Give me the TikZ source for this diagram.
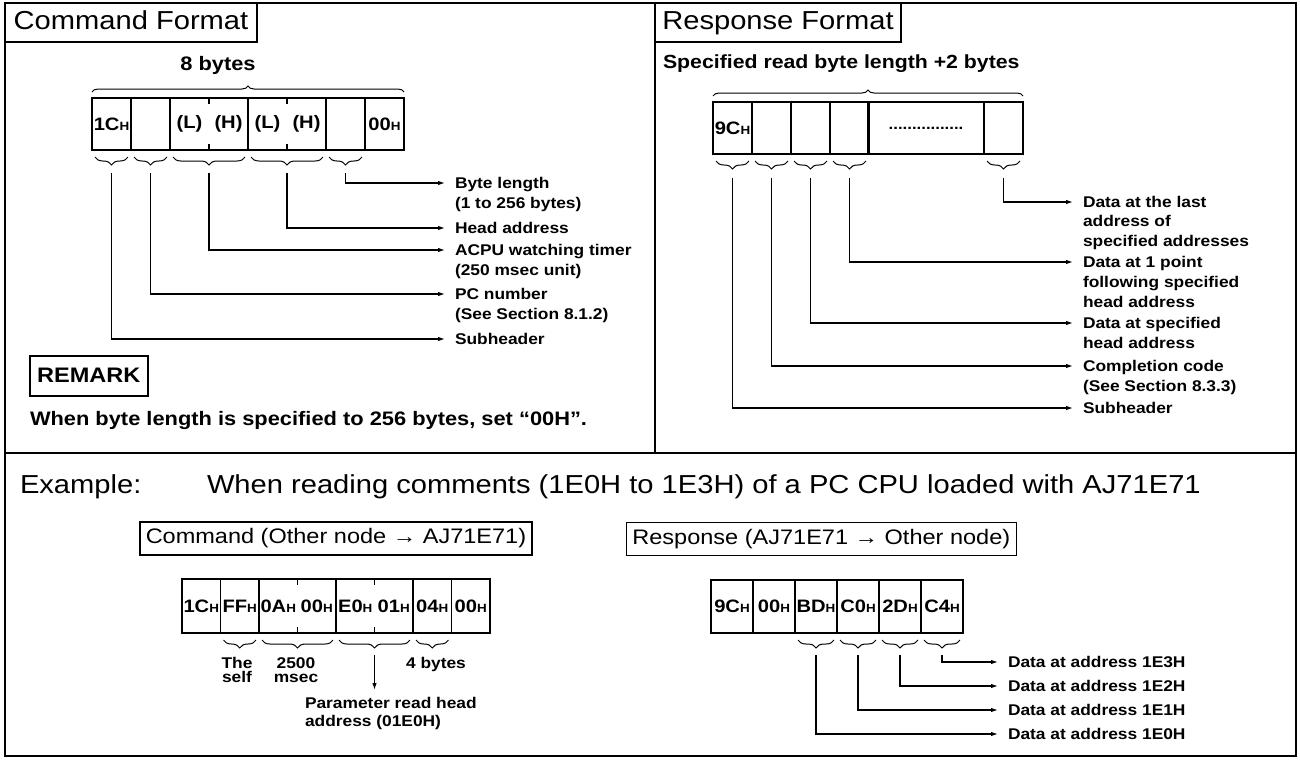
\documentclass[tikz,border=0pt]{standalone}
\usepackage{fontspec}
\setmainfont{Liberation Sans}[FakeStretch=1.12]
\usetikzlibrary{decorations.pathreplacing,arrows.meta}
\newcommand\hx[1]{#1{\fontsize{12}{12}\selectfont H}}
\newcommand\fsz[1]{\fontsize{#1}{#1}\selectfont}
\begin{document}
\begin{tikzpicture}[x=1pt,y=-1pt,
  frameline/.style={line width=1.8pt},
  boxline/.style={line width=1.5pt},
  titlebox/.style={draw,boxline,inner sep=0pt,outer sep=0pt,anchor=north west,text height=19pt,text depth=5pt,font=\fsz{26}},
  cell/.style={draw,boxline,minimum height=52pt,minimum width=39pt,inner sep=0pt,outer sep=0pt,font=\bfseries\fsz{18}},
  ncell/.style={cell,draw=none},
  brc/.style={decorate,decoration={brace,amplitude=8pt},line width=1pt},
  obrc/.style={decorate,decoration={brace,amplitude=6pt},line width=1pt},
  conn/.style={line width=1.2pt,-{Latex[length=7pt,width=4.5pt]}},
  lab/.style={anchor=west,inner xsep=10pt,inner ysep=0pt,outer sep=0pt,text height=11pt,text depth=0pt,font=\bfseries\fsz{15.5}},
  txt/.style={inner sep=0pt,outer sep=0pt},
]
\fill[white] (0,0) rectangle (1300,764);
\useasboundingbox (0,0) rectangle (1300,764);
\draw[frameline] (5,3) rectangle (1296,756);
\draw[frameline] (655,3) -- (655,453);
\draw[frameline] (5,453) -- (1296,453);

% ---------- Command format ----------
\node[titlebox,minimum width=252pt,minimum height=39pt] (cf) at (5,3) {Command Format};
\node[txt,font=\bfseries\fsz{19.5}] (eightb) at (218,65) {8 bytes};

\foreach \i/\t in {1/{\hx{1C}},2/{},3/{(L)},4/{(H)},5/{(L)},6/{(H)},7/{},8/{\hx{00}}}
  \node[ncell] (c\i) at ({92+39*(\i-0.5)},124) {\t};
\draw[boxline] (c1.north west) rectangle (c8.south east);
\foreach \i in {1,2,4,6,7} \draw[boxline] (c\i.north east) -- (c\i.south east);
\foreach \i in {3,5} {\draw[boxline] (c\i.north east) -- ++(0,6); \draw[boxline] (c\i.south east) -- ++(0,-6);}
\draw[obrc] ([yshift=6pt]c1.north west) -- ([yshift=6pt]c8.north east);

\draw[brc] ([xshift=-3pt,yshift=-7pt]c1.south east) -- ([xshift=3pt,yshift=-7pt]c1.south west);
\draw[brc] ([xshift=-3pt,yshift=-7pt]c2.south east) -- ([xshift=3pt,yshift=-7pt]c2.south west);
\draw[brc] ([xshift=-3pt,yshift=-7pt]c4.south east) -- ([xshift=3pt,yshift=-7pt]c3.south west);
\draw[brc] ([xshift=-3pt,yshift=-7pt]c6.south east) -- ([xshift=3pt,yshift=-7pt]c5.south west);
\draw[brc] ([xshift=-3pt,yshift=-7pt]c7.south east) -- ([xshift=3pt,yshift=-7pt]c7.south west);
\coordinate (u1) at ([yshift=-23pt]c1.south);
\coordinate (u2) at ([yshift=-23pt]c2.south);
\coordinate (u34) at ([yshift=-23pt]c3.south east);
\coordinate (u56) at ([yshift=-23pt]c5.south east);
\coordinate (u7) at ([yshift=-23pt]c7.south);

\node[lab] (l7) at (445,183) {Byte length};
\node[lab] (l7b) at (445,203) {(1 to 256 bytes)};
\node[lab] (l56) at (445,228) {Head address};
\node[lab] (l34) at (445,250) {ACPU watching timer};
\node[lab] (l34b) at (445,270) {(250 msec unit)};
\node[lab] (l2) at (445,294) {PC number};
\node[lab] (l2b) at (445,314) {(See Section 8.1.2)};
\node[lab] (l1) at (445,339) {Subheader};
\draw[conn] (u7) |- (l7.west);
\draw[conn] (u56) |- (l56.west);
\draw[conn] (u34) |- (l34.west);
\draw[conn] (u2) |- (l2.west);
\draw[conn] (u1) |- (l1.west);

\node[draw,boxline,anchor=north west,minimum width=118pt,minimum height=40pt,inner sep=0pt,font=\bfseries\fsz{21}] (rem) at (29,355) {REMARK};
\node[txt,anchor=west,font=\bfseries\fsz{19.5}] (remtxt) at (30,420) {When byte length is specified to 256 bytes, set “00H”.};

% ---------- Response format ----------
\node[titlebox,minimum width=246pt,minimum height=39pt] (rf) at (655,3) {Response Format};
\node[txt,anchor=west,font=\bfseries\fsz{19}] (spec) at (663,64) {Specified read byte length +2 bytes};

\foreach \i/\t in {1/{\hx{9C}},2/{},3/{},4/{}}
  \node[cell] (r\i) at ({713+39*(\i-0.5)},128) {\t};
\node[cell,minimum width=116pt,font=\bfseries\fsz{15}] (r5) at (926,128) {................};
\node[cell] (r6) at (1003.5,128) {};
\draw[obrc] ([yshift=6pt]r1.north west) -- ([yshift=6pt]r6.north east);
\foreach \i in {1,2,3,4,6} {
  \draw[brc] ([xshift=-3pt,yshift=-7pt]r\i.south east) -- ([xshift=3pt,yshift=-7pt]r\i.south west);
  \coordinate (v\i) at ([yshift=-24pt]r\i.south);
}
\node[lab] (m6) at (1073,202) {Data at the last};
\node[lab] (m6b) at (1073,221) {address of};
\node[lab] (m6c) at (1073,241) {specified addresses};
\node[lab] (m4) at (1073,262) {Data at 1 point};
\node[lab] (m4b) at (1073,282) {following specified};
\node[lab] (m4c) at (1073,302) {head address};
\node[lab] (m3) at (1073,323) {Data at specified};
\node[lab] (m3b) at (1073,343) {head address};
\node[lab] (m2) at (1073,366) {Completion code};
\node[lab] (m2b) at (1073,386) {(See Section 8.3.3)};
\node[lab] (m1) at (1073,408) {Subheader};
\draw[conn] (v6) |- (m6.west);
\draw[conn] (v4) |- (m4.west);
\draw[conn] (v3) |- (m3.west);
\draw[conn] (v2) |- (m2.west);
\draw[conn] (v1) |- (m1.west);

% ---------- Example ----------
\node[txt,anchor=west,font=\fsz{26}] (ex) at (20,487) {Example:};
\node[txt,anchor=west,font=\fsz{26}] (exh) at (207,487) {When reading comments (1E0H to 1E3H) of a PC CPU loaded with AJ71E71};

\node[draw,boxline,anchor=west,minimum height=33pt,inner xsep=6pt,inner ysep=0pt,text height=14pt,text depth=4pt,font=\fsz{21}] (cmdbox) at (139,538.5) {Command (Other node → AJ71E71)};
\node[draw,boxline,anchor=east,minimum height=33pt,inner xsep=6pt,inner ysep=0pt,text height=14pt,text depth=4pt,font=\fsz{21}] (rspbox) at (1017,539) {Response (AJ71E71 → Other node)};

\foreach \i/\t in {1/{\hx{1C}},2/{\hx{FF}},3/{\hx{0A}},4/{\hx{00}},5/{\hx{E0}},6/{\hx{01}},7/{\hx{04}},8/{\hx{00}}}
  \node[ncell,minimum width=38.5pt,minimum height=54pt] (e\i) at ({182+38.5*(\i-0.5)},606) {\t};
\draw[boxline] (e1.north west) rectangle (e8.south east);
\foreach \i in {1,2,4,6,7} \draw[boxline] (e\i.north east) -- (e\i.south east);
\foreach \i in {3,5} {\draw[boxline] (e\i.north east) -- ++(0,6); \draw[boxline] (e\i.south east) -- ++(0,-6);}
\draw[brc] ([xshift=-3pt,yshift=-7pt]e2.south east) -- ([xshift=3pt,yshift=-7pt]e2.south west);
\draw[brc] ([xshift=-3pt,yshift=-7pt]e4.south east) -- ([xshift=3pt,yshift=-7pt]e3.south west);
\draw[brc] ([xshift=-3pt,yshift=-7pt]e6.south east) -- ([xshift=3pt,yshift=-7pt]e5.south west);
\draw[brc] ([xshift=-3pt,yshift=-7pt]e7.south east) -- ([xshift=3pt,yshift=-7pt]e7.south west);

\node[txt,align=center,font=\bfseries\fontsize{15.5}{14}\selectfont] (theself) at (237,670) {The\\self};
\node[txt,align=center,font=\bfseries\fontsize{15.5}{14}\selectfont] (msec) at (296,670) {2500\\msec};
\node[txt,font=\bfseries\fsz{15.5}] (fourb) at (436,664) {4 bytes};
\coordinate (w56) at ([yshift=-22pt]e5.south east);
\node[txt,anchor=north west,align=left,font=\bfseries\fontsize{15.5}{18}\selectfont] (par) at (305,697) {Parameter read head\\address (01E0H)};
\draw[conn,shorten >=7pt] (w56) -- (w56 |- par.north);

\foreach \i/\t in {1/{\hx{9C}},2/{\hx{00}},3/{\hx{BD}},4/{\hx{C0}},5/{\hx{2D}},6/{\hx{C4}}}
  \node[cell,minimum width=42pt,minimum height=53pt] (f\i) at ({711+42*(\i-0.5)},606.5) {\t};
\foreach \i in {3,4,5,6} {
  \draw[brc] ([xshift=-3pt,yshift=-7pt]f\i.south east) -- ([xshift=3pt,yshift=-7pt]f\i.south west);
  \coordinate (z\i) at ([yshift=-22pt]f\i.south);
}
\node[lab] (d3) at (998,662) {Data at address 1E3H};
\node[lab] (d2) at (998,686) {Data at address 1E2H};
\node[lab] (d1) at (998,710) {Data at address 1E1H};
\node[lab] (d0) at (998,734) {Data at address 1E0H};
\draw[conn] (z6) |- (d3.west);
\draw[conn] (z5) |- (d2.west);
\draw[conn] (z4) |- (d1.west);
\draw[conn] (z3) |- (d0.west);
\end{tikzpicture}
\end{document}
